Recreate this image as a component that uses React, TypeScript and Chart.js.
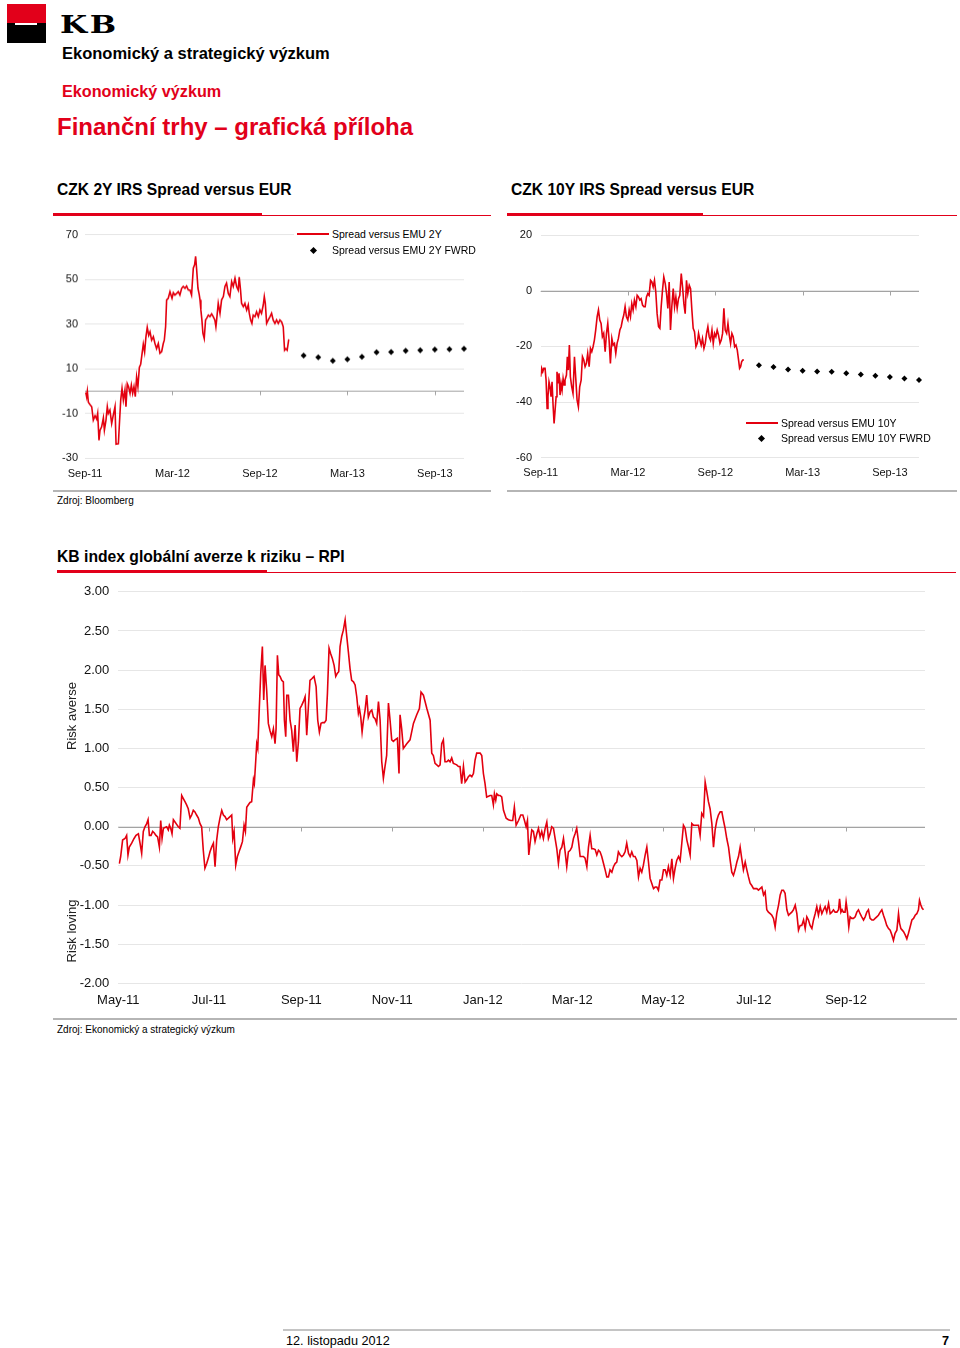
import React, { useEffect, useRef } from 'react';
import { Chart, registerables } from 'chart.js';
Chart.register(...registerables);

const FONT = "'Liberation Sans', Arial, Helvetica, sans-serif";
const RED = '#e2001a';
const LINE_RED = '#e3000f';

// ---------- top charts (x = months since Sep-11) ----------
const topTickMonths = [0, 6, 12, 18, 24];
const topTickLabels = ['Sep-11', 'Mar-12', 'Sep-12', 'Mar-13', 'Sep-13'];
const fwrdMonths = [15, 16, 17, 18, 19, 20, 21, 22, 23, 24, 25, 26];

const c1YTicks = [-30, -10, 10, 30, 50, 70];
const c1Months = [
  0.05, 0.11, 0.16, 0.23, 0.34, 0.46, 0.57, 0.69, 0.80, 0.87,
  0.96, 1.03, 1.14, 1.26, 1.33, 1.44, 1.53, 1.60, 1.71, 1.83,
  1.94, 2.06, 2.13, 2.29, 2.35, 2.45, 2.54, 2.63, 2.74, 2.81,
  2.90, 2.99, 3.09, 3.18, 3.27, 3.36, 3.45, 3.54, 3.63, 3.73,
  3.82, 3.91, 4.00, 4.09, 4.18, 4.27, 4.37, 4.46, 4.57, 4.69,
  4.80, 4.91, 5.03, 5.14, 5.26, 5.37, 5.44, 5.53, 5.60, 5.71,
  5.83, 5.90, 5.97, 6.06, 6.17, 6.29, 6.40, 6.51, 6.63, 6.74,
  6.86, 6.97, 7.09, 7.20, 7.31, 7.43, 7.52, 7.59, 7.66, 7.75,
  7.84, 7.89, 7.95, 8.02, 8.09, 8.18, 8.27, 8.34, 8.46, 8.57,
  8.69, 8.80, 8.91, 8.98, 9.03, 9.14, 9.26, 9.37, 9.49, 9.60,
  9.71, 9.83, 9.94, 10.06, 10.17, 10.29, 10.40, 10.51, 10.58, 10.67,
  10.74, 10.86, 10.97, 11.09, 11.20, 11.27, 11.36, 11.45, 11.54, 11.66,
  11.77, 11.89, 12.00, 12.11, 12.23, 12.30, 12.37, 12.46, 12.57, 12.69,
  12.80, 12.91, 13.03, 13.14, 13.26, 13.37, 13.49, 13.60, 13.69, 13.78,
  13.87, 13.97, 14.01,
];
const c1Spread = [
  -0.5, -2.5, 0, -5, -6, -7, -13, -11, -12.5, -10,
  -22, -17.5, -16, -12, -17.5, -13, -7, -10, -8.5, -14.5,
  -10.8, -7, -23.7, -23.5, -16, -4, 1.2, -4, 0.5, -7,
  3.3, 2, -1, 2.7, -1, 2, -2.5, 6.3, 2, 10.7,
  12, 16.5, 21, 17.5, 24.3, 28.5, 25, 26.5, 22.8, 24.3,
  21.3, 19, 21.3, 17, 17.7, 21.3, 22.8, 28.8, 40.8, 41.5,
  44.5, 43, 41.5, 44, 43, 43.7, 44.5, 43, 46, 46.8,
  46, 47, 45.2, 45.2, 43, 55, 56.5, 60.3, 54.3, 46,
  43, 40.8, 36.3, 31.8, 25.8, 23.5, 31.8, 32.5, 34, 33.3,
  34.5, 33.3, 31.8, 28.8, 31.8, 39.3, 34.8, 40.8, 42.3, 46.8,
  48.3, 43.7, 42.3, 49, 46.8, 50.5, 46.8, 45.2, 51, 45.2,
  39.3, 37.8, 39.3, 36.3, 38.6, 34.8, 31.8, 30.3, 34, 33.3,
  35.5, 33.3, 36.3, 34.8, 38.6, 42.3, 39.3, 30.3, 31.8, 33.3,
  34.8, 31.8, 30.3, 31.8, 30.3, 31.8, 31, 28.8, 18.3, 19,
  18.3, 22.8, 23,
];
const c1Fwrd = [15.9, 15.1, 13.6, 14.2, 15.4, 17.4, 17.5, 18.0, 18.3, 18.6, 18.7, 18.9];

const c2YTicks = [-60, -40, -20, 0, 20];
const c2Months = [
  0.00, 0.07, 0.14, 0.21, 0.30, 0.37, 0.44, 0.50, 0.57, 0.64,
  0.71, 0.78, 0.85, 0.92, 0.99, 1.06, 1.12, 1.19, 1.26, 1.33,
  1.40, 1.47, 1.54, 1.61, 1.67, 1.77, 1.83, 1.90, 1.97, 2.04,
  2.13, 2.22, 2.32, 2.41, 2.50, 2.59, 2.68, 2.78, 2.87, 2.96,
  3.05, 3.14, 3.23, 3.33, 3.42, 3.51, 3.60, 3.69, 3.78, 3.88,
  3.97, 4.06, 4.15, 4.24, 4.33, 4.43, 4.52, 4.61, 4.70, 4.79,
  4.89, 4.98, 5.07, 5.16, 5.25, 5.34, 5.44, 5.53, 5.62, 5.71,
  5.80, 5.89, 5.99, 6.08, 6.17, 6.26, 6.35, 6.44, 6.54, 6.63,
  6.72, 6.81, 6.90, 7.00, 7.09, 7.18, 7.27, 7.36, 7.45, 7.55,
  7.64, 7.73, 7.82, 7.91, 8.00, 8.10, 8.19, 8.28, 8.37, 8.46,
  8.56, 8.65, 8.74, 8.83, 8.92, 9.01, 9.11, 9.20, 9.29, 9.38,
  9.47, 9.56, 9.66, 9.75, 9.84, 9.93, 10.02, 10.11, 10.21, 10.30,
  10.39, 10.48, 10.57, 10.67, 10.76, 10.85, 10.94, 11.03, 11.12, 11.22,
  11.31, 11.40, 11.49, 11.58, 11.67, 11.77, 11.86, 11.95, 12.04, 12.13,
  12.22, 12.32, 12.41, 12.50, 12.59, 12.68, 12.78, 12.87, 12.96, 13.05,
  13.14, 13.23, 13.33, 13.42, 13.51, 13.60, 13.67, 13.74, 13.81, 13.88,
  13.97,
];
const c2Spread = [
  -30.9, -27.9, -29.1, -27.9, -27.9, -32.1, -42.3, -38.1, -32.7, -34.5,
  -38.1, -32.7, -41.1, -47.7, -42.9, -38.1, -29.1, -33.3, -29.7, -37.5,
  -33.3, -35.7, -31.5, -33.9, -32.1, -30.3, -23.7, -28.5, -19.5, -30.9,
  -34.5, -36.9, -23.7, -31.5, -39.3, -41.7, -34.5, -32.1, -23.7, -24.9,
  -27.3, -26.1, -22.5, -27.3, -20.7, -21.9, -20.1, -17.7, -14.1, -9.3,
  -6.9, -10.5, -11.7, -16.5, -15.3, -21.9, -15.3, -11.7, -17.7, -26.1,
  -17.1, -19.5, -18.9, -22.5, -18.9, -17.1, -14.1, -12.9, -10.5, -8.7,
  -5.7, -9.3, -10.5, -6.9, -9.3, -4.6, -6.9, -3.3, -5.7, -1.6,
  -2.2, -3.3, -2.8, -5.1, -5.7, -5.7, -2.2, -1.0, -1.6, 3.8,
  3.2, 1.4, 3.8, -0.4, -8.2, -12.9, -13.5, -5.7, 0.2, 5.0,
  2.6, -1.0, -6.3, 3.2, -14.1, -5.7, 0.8, -5.7, -2.2, -6.3,
  -2.8, -1.6, 6.2, 1.4, -4.6, -8.2, 3.8, -1.0, 2.0, 0.8,
  -6.9, -13.5, -14.7, -20.1, -18.9, -15.3, -17.7, -19.5, -17.1, -20.7,
  -18.9, -15.3, -12.9, -16.5, -17.7, -14.1, -18.9, -15.3, -16.5, -14.1,
  -15.9, -18.9, -17.7, -15.3, -6.3, -14.1, -15.3, -11.7, -15.9, -18.9,
  -15.3, -16.5, -20.1, -19.5, -21.3, -24.9, -27.9, -27.3, -25.5, -24.9,
  -24.9,
];
const c2Fwrd = [-26.8, -27.4, -28.3, -28.7, -29.0, -29.1, -29.6, -30.1, -30.5, -31.0, -31.5, -32.1];

// ---------- RPI chart (x = days since 1 May 2011) ----------
const rpiTickDays = [0, 61, 123, 184, 245, 305, 366, 427, 489];
const rpiTickLabels = ['May-11', 'Jul-11', 'Sep-11', 'Nov-11', 'Jan-12', 'Mar-12', 'May-12', 'Jul-12', 'Sep-12'];
const rpiYTicks = [-2, -1.5, -1, -0.5, 0, 0.5, 1, 1.5, 2, 2.5, 3];
const rpiDays = [
  0.7, 1.6, 2.9, 4.5, 5.6, 6.5, 7.4, 9.0, 10.6, 11.9,
  13.5, 14.6, 15.7, 16.8, 17.9, 19.1, 20.0, 20.9, 22.0, 23.1,
  24.2, 25.3, 26.4, 27.6, 28.5, 29.4, 30.3, 31.4, 32.5, 33.6,
  34.3, 35.2, 36.1, 37.0, 38.1, 39.2, 40.3, 41.4, 42.6, 43.7,
  44.8, 45.9, 47.0, 48.2, 49.3, 50.4, 51.5, 52.6, 53.8, 54.9,
  56.0, 57.1, 58.2, 59.4, 60.5, 61.6, 62.7, 63.9, 65.0, 66.1,
  67.2, 68.3, 69.5, 70.6, 71.7, 72.8, 74.0, 75.1, 76.2, 76.9,
  77.8, 78.9, 80.0, 81.1, 82.2, 83.4, 84.5, 85.4, 86.3, 87.4,
  88.5, 89.6, 90.8, 91.4, 92.3, 93.0, 93.7, 94.6, 95.7, 96.8,
  97.7, 98.6, 99.7, 100.8, 101.9, 103.1, 104.2, 105.3, 106.0, 106.9,
  107.8, 108.7, 109.8, 110.9, 111.6, 112.5, 113.2, 114.3, 115.4, 116.5,
  117.6, 118.8, 119.9, 121.0, 122.1, 123.2, 124.4, 125.5, 126.6, 127.7,
  128.8, 130.0, 131.5, 132.9, 134.0, 135.1, 136.2, 137.3, 138.5, 139.6,
  140.5, 141.6, 142.7, 143.8, 145.0, 146.1, 147.2, 148.1, 149.0, 150.1,
  151.2, 152.4, 153.5, 154.6, 155.7, 156.8, 158.0, 159.1, 160.2, 161.3,
  162.0, 162.9, 163.8, 164.7, 165.8, 166.9, 168.0, 169.2, 170.3, 171.4,
  172.5, 173.6, 174.8, 175.9, 177.0, 178.1, 179.2, 180.3, 181.5, 182.6,
  183.7, 184.8, 185.9, 187.5, 188.6, 189.3, 190.4, 191.5, 193.8, 196.0,
  198.3, 200.5, 202.3, 203.4, 205.0, 206.1, 207.3, 209.5, 210.6, 211.7,
  212.8, 214.0, 215.1, 216.2, 217.3, 218.4, 219.5, 220.7, 221.8, 222.9,
  224.0, 225.1, 226.3, 227.4, 228.5, 229.6, 230.7, 231.9, 233.0, 234.1,
  235.2, 236.3, 237.5, 238.6, 239.7, 240.8, 243.1, 244.2, 245.3, 246.4,
  247.5, 248.7, 249.8, 250.9, 252.0, 252.7, 253.6, 254.3, 255.4, 256.5,
  257.6, 258.8,
  260.6, 262.1, 263.7, 265.0, 266.1, 267.3, 268.9, 270.4, 271.8, 272.9,
  274.0, 274.9, 275.8, 276.7, 277.8, 278.9, 280.0, 281.2, 282.3, 283.4,
  284.5, 285.6, 286.8, 287.9, 289.0, 290.1, 291.2, 292.4, 293.5, 294.6,
  295.7, 296.8, 298.0, 299.1, 300.2, 301.3, 302.4, 303.6, 304.7, 305.8,
  306.9, 308.0, 309.2, 310.3, 311.4, 312.5, 313.6, 314.8, 315.9, 317.0,
  318.1, 319.2, 320.4, 321.5, 322.6, 323.7, 324.8, 326.0, 327.1, 328.2,
  329.3, 330.4, 331.6, 332.7, 333.8, 334.9, 336.0, 337.2, 338.3, 339.4,
  340.5, 341.6, 342.8, 343.9, 345.0, 346.1, 347.2, 348.4, 349.5, 350.6,
  351.7, 352.8, 354.0, 355.1, 356.2, 357.3, 358.4, 359.6, 360.7, 361.8,
  362.9, 364.0, 365.2, 366.3, 367.4, 368.5, 369.6, 370.8, 371.9, 373.0,
  374.1, 375.2, 376.4, 377.5, 378.6, 379.7, 380.8, 382.0, 383.1, 384.2,
  385.3, 386.4, 387.6, 388.7, 389.8, 390.9, 392.0, 393.2, 394.3, 395.4,
  396.5, 397.6, 398.8, 399.9, 401.0, 402.1, 403.2, 404.4, 405.5, 406.6,
  407.7, 408.8, 410.0, 411.1, 412.2, 413.3, 414.4, 415.6, 416.7, 417.8,
  418.9, 420.0, 421.2, 422.3, 423.4, 424.5, 425.6, 426.8, 427.9, 429.0,
  430.1, 431.2, 432.4, 433.5, 434.6, 435.7, 436.8, 438.0, 439.1, 440.2,
  441.3, 442.4, 443.6, 444.7, 445.8, 446.9, 448.0, 449.2, 450.3, 451.4,
  452.5, 453.6, 454.8, 455.9, 457.0, 458.1, 459.2, 460.4, 461.5, 462.6,
  463.7, 464.8, 466.0, 467.1, 468.2, 469.3, 470.4, 471.6, 472.7, 473.8,
  474.9, 476.0, 477.2, 478.3, 479.4, 480.5, 481.6, 482.8, 483.9, 484.6,
  485.5, 486.3, 487.2, 488.3, 489.0, 489.9, 490.8, 491.7, 492.8, 493.9,
  495.1, 496.2, 497.3, 498.4, 499.5, 500.7, 501.8, 502.9, 504.0, 505.1,
  506.3, 507.4, 508.5, 509.6, 510.7, 511.9, 513.0, 514.1, 515.2, 516.3,
  517.5, 518.6, 519.7, 520.8, 521.9, 523.1, 524.2, 524.9, 525.8, 526.7,
  527.6, 528.7, 529.8, 530.9, 532.0, 533.2, 534.3, 535.4, 536.5, 537.6,
  538.3, 539.2, 540.1, 541.0,
];
const rpiValues = [
  -0.47, -0.38, -0.17, -0.15, -0.11, -0.36, -0.26, -0.21, -0.15, -0.11,
  -0.09, -0.21, -0.34, -0.06, 0, 0.04, 0.09, -0.11, -0.11, -0.06,
  -0.08, -0.11, -0.13, -0.26, 0.08, -0.15, -0.02, -0.01, 0, -0.04,
  0.02, -0.02, -0.09, 0.09, 0.06, 0.03, 0, -0.02, 0.40, 0.36,
  0.32, 0.28, 0.23, 0.11, 0.15, 0.21, 0.19, 0.15, 0.11, 0.04,
  0, -0.30, -0.53, -0.47, -0.40, -0.32, -0.26, -0.21, -0.51, -0.17,
  0, 0.11, 0.21, 0.15, 0.13, 0.09, 0.11, 0.13, 0.15, -0.15,
  -0.06, -0.49, -0.38, -0.32, -0.26, -0.19, 0.02, -0.06, 0.25, 0.28,
  0.31, 0.32, 0.60, 0.55, 0.83, 1.06, 1.00, 1.45, 1.96, 2.30,
  1.62, 2.06, 1.74, 1.32, 1.23, 1.15, 1.25, 1.06, 1.25, 2.19,
  1.94, 1.92, 1.87, 1.85, 1.36, 1.15, 1.68, 1.68, 1.36, 1.23,
  0.96, 1.30, 0.83, 1.08, 1.51, 1.55, 1.60, 1.66, 1.17, 1.53,
  1.87, 1.89, 1.92, 1.79, 1.36, 1.21, 1.32, 1.33, 1.33, 1.36,
  1.70, 2.28, 2.21, 2.15, 2.06, 1.92, 1.96, 1.98, 2.30, 2.43,
  2.51, 2.64, 2.43, 2.23, 2.02, 1.87, 1.85, 1.81, 1.66, 1.45,
  1.51, 1.40, 1.21, 1.36, 1.49, 1.68, 1.40, 1.47, 1.49, 1.40,
  1.38, 1.32, 1.60, 1.36, 0.83, 0.62, 0.77, 0.91, 1.58, 1.36,
  1.11, 1.09, 1.11, 1.13, 0.68, 1.43, 1.25, 1.00, 1.06, 1.11,
  1.32, 1.43, 1.51, 1.72, 1.68, 1.60, 1.51, 1.36, 0.94, 0.91,
  0.81, 0.79, 0.77, 0.79, 1.06, 1.11, 0.83, 0.83, 0.85, 0.83,
  0.88, 0.81, 0.80, 0.79, 0.77, 0.77, 0.55, 0.77, 0.57, 0.60,
  0.64, 0.66, 0.64, 0.68, 0.85, 0.94, 0.94, 0.91, 0.68, 0.55,
  0.38, 0.39, 0.40, 0.40, 0.28, 0.42, 0.34, 0.42, 0.40, 0.40,
  0.38, 0.21,
  0.11, 0.09, 0.08, 0.08, 0.25, 0.02, 0.08, 0.15, 0.15, 0.08,
  0, 0.08, -0.36, -0.21, -0.04, -0.06, -0.19, -0.09, -0.02, -0.13,
  -0.06, -0.15, -0.02, 0.06, -0.15, -0.09, 0, -0.02, -0.15, -0.28,
  -0.47, -0.30, -0.26, -0.15, -0.32, -0.51, -0.32, -0.30, -0.26, -0.15,
  -0.09, -0.02, -0.19, -0.38, -0.38, -0.38, -0.40, -0.51, -0.26, -0.11,
  -0.28, -0.28, -0.29, -0.36, -0.30, -0.32, -0.38, -0.47, -0.55, -0.64,
  -0.64, -0.55, -0.58, -0.51, -0.47, -0.45, -0.32, -0.36, -0.38, -0.36,
  -0.32, -0.21, -0.34, -0.38, -0.32, -0.38, -0.38, -0.43, -0.64, -0.53,
  -0.58, -0.49, -0.36, -0.26, -0.45, -0.66, -0.72, -0.79, -0.77, -0.77,
  -0.81, -0.68, -0.68, -0.55, -0.55, -0.62, -0.51, -0.62, -0.41, -0.66,
  -0.53, -0.43, -0.38, -0.43, -0.21, 0.02, -0.02, -0.17, -0.26, -0.36,
  0.04, 0.02, 0.02, 0.02, 0.02, -0.11, 0.17, 0.13, 0.57, 0.45,
  0.32, 0.23, 0.04, -0.26, -0.04, 0.08, 0.15, 0.19, 0.19, 0.08,
  -0.02, -0.15, -0.26, -0.43, -0.58, -0.62, -0.55, -0.45, -0.38, -0.26,
  -0.41, -0.55, -0.45, -0.55, -0.64, -0.72, -0.75, -0.79, -0.79, -0.79,
  -0.81, -0.79, -0.77, -0.87, -0.83, -1.06, -1.09, -1.11, -1.13, -1.17,
  -1.28, -1.11, -1.00, -0.87, -0.81, -0.81, -0.85, -1.06, -1.13, -1.11,
  -1.09, -1.06, -1.00, -1.11, -1.32, -1.26, -1.26, -1.19, -1.30, -1.15,
  -1.19, -1.26, -1.30, -1.19, -1.11, -1.02, -1.13, -1.02, -1.11, -1.06,
  -1.02, -1.09, -0.98, -1.11, -1.09, -1.06, -1.09, -1.09, -1.06, -0.92,
  -1.09, -1.06, -1.09, -1.09, -0.96, -1.09, -1.28, -1.15, -1.17, -1.17,
  -1.15, -1.09, -1.06, -1.11, -1.15, -1.19, -1.15, -1.09, -1.06, -1.17,
  -1.19, -1.19, -1.17, -1.15, -1.13, -1.09, -1.06, -1.13, -1.19, -1.26,
  -1.30, -1.32, -1.38, -1.45, -1.36, -1.32, -1.11, -1.23, -1.30, -1.32,
  -1.34, -1.38, -1.43, -1.36, -1.28, -1.19, -1.17, -1.13, -1.11, -1.06,
  -0.94, -1.00, -1.04, -1.06,
];

// ---------- helpers ----------
const zeroAxisPlugin = {
  id: 'zeroAxis',
  beforeDatasetsDraw(chart: any) {
    const { ctx, chartArea, scales } = chart;
    const y = Math.round(scales.y.getPixelForValue(0)) + 0.5;
    ctx.save();
    ctx.strokeStyle = '#a3a3a3';
    ctx.lineWidth = 1;
    ctx.beginPath();
    ctx.moveTo(chartArea.left, y);
    ctx.lineTo(chartArea.right, y);
    for (const t of scales.x.ticks) {
      const x = Math.round(scales.x.getPixelForValue(t.value)) + 0.5;
      if (x > chartArea.left + 2) {
        ctx.moveTo(x, y);
        ctx.lineTo(x, y + 4);
      }
    }
    ctx.stroke();
    ctx.restore();
  },
};

type Box = { left: number; top: number; width: number; height: number };

function ChartCanvas({ box, makeConfig }: { box: Box; makeConfig: () => any }) {
  const ref = useRef<HTMLCanvasElement>(null);
  useEffect(() => {
    const chart = new Chart(ref.current as HTMLCanvasElement, makeConfig());
    return () => chart.destroy();
  }, []);
  return (
    <div style={{ position: 'absolute', left: box.left, top: box.top, width: box.width, height: box.height }}>
      <canvas ref={ref} />
    </div>
  );
}

function spreadConfig(p: {
  months: number[]; values: number[]; fwrd: number[]; yMin: number; yMax: number; yTicks: number[];
  yAxisWidth: number; yPad: number; padRight: number; xAxisHeight: number;
}) {
  return {
    type: 'line',
    data: {
      datasets: [
        {
          data: p.months.map((m, i) => ({ x: m, y: p.values[i] })),
          borderColor: LINE_RED,
          borderWidth: 1.6,
          pointRadius: 0,
          tension: 0,
        },
        {
          data: fwrdMonths.map((m, i) => ({ x: m, y: p.fwrd[i] })),
          showLine: false,
          pointStyle: 'rectRot',
          pointRadius: 3,
          backgroundColor: '#000',
          borderColor: '#000',
          borderWidth: 0,
          clip: false,
        },
      ],
    },
    options: {
      animation: false,
      responsive: true,
      maintainAspectRatio: false,
      events: [],
      layout: { padding: { top: 0, right: p.padRight, left: 0, bottom: 0 } },
      plugins: { legend: { display: false }, tooltip: { enabled: false } },
      scales: {
        x: {
          type: 'linear',
          min: 0,
          max: 26,
          grid: { display: false, drawTicks: false },
          border: { display: false },
          afterBuildTicks: (s: any) => { s.ticks = topTickMonths.map((v) => ({ value: v })); },
          afterFit: (s: any) => { s.height = p.xAxisHeight; },
          ticks: {
            autoSkip: false,
            maxRotation: 0,
            padding: 9,
            color: '#111',
            font: { family: FONT, size: 11 },
            callback: (v: any) => topTickLabels[topTickMonths.indexOf(Number(v))] ?? '',
          },
        },
        y: {
          type: 'linear',
          min: p.yMin,
          max: p.yMax,
          afterBuildTicks: (s: any) => { s.ticks = p.yTicks.map((v) => ({ value: v })); },
          afterFit: (s: any) => { s.width = p.yAxisWidth; },
          grid: { color: '#e6e6e6', lineWidth: 1, drawTicks: false },
          border: { display: false },
          ticks: {
            padding: p.yPad,
            color: '#111',
            font: { family: FONT, size: 11 },
            callback: (v: any) => String(v),
          },
        },
      },
    },
    plugins: [zeroAxisPlugin],
  };
}

function rpiConfig() {
  return {
    type: 'line',
    data: {
      datasets: [
        {
          data: rpiDays.map((d, i) => ({ x: d, y: rpiValues[i] })),
          borderColor: LINE_RED,
          borderWidth: 1.6,
          pointRadius: 0,
          tension: 0,
        },
      ],
    },
    options: {
      animation: false,
      responsive: true,
      maintainAspectRatio: false,
      events: [],
      layout: { padding: { top: 0, right: 10, left: 0, bottom: 0 } },
      plugins: { legend: { display: false }, tooltip: { enabled: false } },
      scales: {
        x: {
          type: 'linear',
          min: 0,
          max: 542,
          grid: { display: false, drawTicks: false },
          border: { display: false },
          afterBuildTicks: (s: any) => { s.ticks = rpiTickDays.map((v) => ({ value: v })); },
          afterFit: (s: any) => { s.height = 36.7; },
          ticks: {
            autoSkip: false,
            maxRotation: 0,
            padding: 9,
            color: '#111',
            font: { family: FONT, size: 13 },
            callback: (v: any) => rpiTickLabels[rpiTickDays.indexOf(Number(v))] ?? '',
          },
        },
        y: {
          type: 'linear',
          min: -2,
          max: 3,
          afterBuildTicks: (s: any) => { s.ticks = rpiYTicks.map((v) => ({ value: v })); },
          afterFit: (s: any) => { s.width = 63.3; },
          grid: { color: '#e6e6e6', lineWidth: 1, drawTicks: false },
          border: { display: false },
          ticks: {
            padding: 9,
            color: '#111',
            font: { family: FONT, size: 13 },
            callback: (v: any) => Number(v).toFixed(2),
          },
        },
      },
    },
    plugins: [zeroAxisPlugin],
  };
}

function T({ x, y, size, bold, color, children, lh }: any) {
  const lineH = lh ?? Math.round(size * 1.3);
  return (
    <div
      style={{
        position: 'absolute',
        left: x,
        top: y - lineH / 2,
        fontFamily: FONT,
        fontSize: size,
        fontWeight: bold ? 700 : 400,
        color: color ?? '#000',
        lineHeight: `${lineH}px`,
        whiteSpace: 'nowrap',
      }}
    >
      {children}
    </div>
  );
}

function Rect({ x, y, w, h, c }: any) {
  return <div style={{ position: 'absolute', left: x, top: y, width: w, height: h, background: c }} />;
}

function Diamond({ cx, cy }: { cx: number; cy: number }) {
  return (
    <div
      style={{
        position: 'absolute', left: cx - 2.5, top: cy - 2.5, width: 5, height: 5,
        background: '#000', transform: 'rotate(45deg)',
      }}
    />
  );
}

export default function App() {
  return (
    <div style={{ position: 'absolute', left: 0, top: 0, width: 960, height: 1348, background: '#fff', overflow: 'hidden' }}>
      {/* logo */}
      <Rect x={6.5} y={4} w={39.5} h={19} c={RED} />
      <Rect x={6.5} y={23} w={39.5} h={20} c="#000" />
      <Rect x={15} y={23.3} w={22} h={2} c="#fff" />
      <div
        style={{
          position: 'absolute', left: 60, top: 12, fontFamily: "'DejaVu Serif', 'Liberation Serif', serif",
          fontWeight: 700, fontSize: 25, lineHeight: '25px', letterSpacing: 2, color: '#000',
          transform: 'scaleX(1.25)', transformOrigin: 'left top',
        }}
      >
        KB
      </div>
      <T x={62} y={53} size={16.5} bold>Ekonomický a strategický výzkum</T>
      <T x={62} y={91} size={16.2} bold color={RED}>Ekonomický výzkum</T>
      <T x={57} y={126} size={24} bold color={RED}>Finanční trhy – grafická příloha</T>

      {/* chart titles */}
      <T x={57} y={190} size={15.6} bold>CZK 2Y IRS Spread versus EUR</T>
      <T x={511} y={190} size={15.6} bold>CZK 10Y IRS Spread versus EUR</T>
      <Rect x={53} y={213} w={209} h={3} c={RED} />
      <Rect x={262} y={215} w={229} h={1} c={RED} />
      <Rect x={507} y={213} w={196} h={3} c={RED} />
      <Rect x={703} y={215} w={254} h={1} c={RED} />

      <ChartCanvas
        box={{ left: 50, top: 221.1, width: 420, height: 262.9 }}
        makeConfig={() =>
          spreadConfig({
            months: c1Months, values: c1Spread, fwrd: c1Fwrd, yMin: -30, yMax: 70, yTicks: c1YTicks,
            yAxisWidth: 35, yPad: 7, padRight: 6, xAxisHeight: 26.7,
          })
        }
      />
      <ChartCanvas
        box={{ left: 500, top: 219.7, width: 425, height: 264.3 }}
        makeConfig={() =>
          spreadConfig({
            months: c2Months, values: c2Spread, fwrd: c2Fwrd, yMin: -60, yMax: 20, yTicks: c2YTicks,
            yAxisWidth: 40.7, yPad: 8.7, padRight: 6, xAxisHeight: 26.7,
          })
        }
      />

      {/* legend chart 1 */}
      <Rect x={294} y={226} w={180} h={32} c="#fff" />
      <Rect x={297} y={233} w={32} h={2} c={LINE_RED} />
      <T x={332} y={234} size={10.5}>Spread versus EMU 2Y</T>
      <Diamond cx={313} cy={250} />
      <T x={332} y={250} size={10.5}>Spread versus EMU 2Y FWRD</T>

      {/* legend chart 2 */}
      <Rect x={746} y={422} w={32} h={2} c={LINE_RED} />
      <T x={781} y={423} size={10.5}>Spread versus EMU 10Y</T>
      <Diamond cx={761} cy={438} />
      <T x={781} y={438} size={10.5}>Spread versus EMU 10Y FWRD</T>

      <Rect x={53} y={489.5} w={438} h={2} c="#b5b5b5" />
      <Rect x={507} y={489.5} w={450} h={2} c="#b5b5b5" />
      <T x={57} y={500.5} size={10}>Zdroj: Bloomberg</T>

      {/* RPI chart */}
      <T x={57} y={557} size={15.7} bold>KB index globální averze k riziku – RPI</T>
      <Rect x={57} y={570} w={210} h={3} c={RED} />
      <Rect x={267} y={572} w={689} h={1} c={RED} />

      <ChartCanvas box={{ left: 55, top: 574.9, width: 880, height: 445.1 }} makeConfig={rpiConfig} />

      <div
        style={{
          position: 'absolute', left: 72, top: 716, transform: 'translate(-50%, -50%) rotate(-90deg)',
          fontFamily: FONT, fontSize: 13, color: '#222', whiteSpace: 'nowrap', lineHeight: '16px',
        }}
      >
        Risk averse
      </div>
      <div
        style={{
          position: 'absolute', left: 72, top: 931, transform: 'translate(-50%, -50%) rotate(-90deg)',
          fontFamily: FONT, fontSize: 13, color: '#222', whiteSpace: 'nowrap', lineHeight: '16px',
        }}
      >
        Risk loving
      </div>

      <Rect x={53} y={1018} w={904} h={2} c="#b5b5b5" />
      <T x={57} y={1029} size={10}>Zdroj: Ekonomický a strategický výzkum</T>

      {/* footer */}
      <Rect x={283} y={1329} w={667} h={2} c="#c4c4c4" />
      <T x={286} y={1341} size={12.7}>12. listopadu 2012</T>
      <T x={942} y={1341} size={12.7} bold>7</T>
    </div>
  );
}
